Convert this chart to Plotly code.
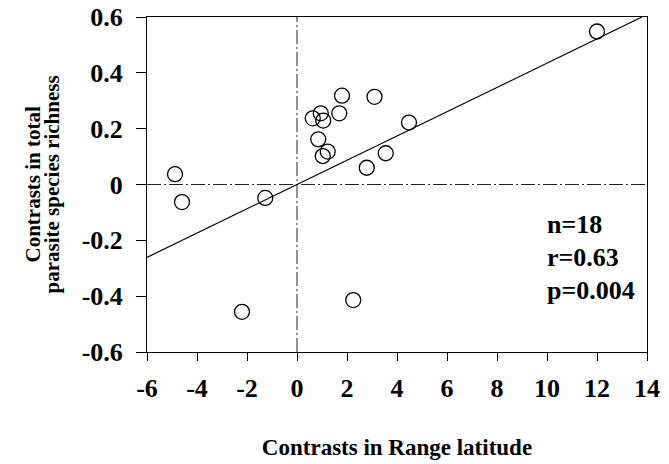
import plotly.graph_objects as go

# Data
range_latitude = [12.0, 1.8, 3.1, 0.95, 0.63, 1.05, 1.69, 4.48, 0.85,
                  1.23, 1.03, 3.55, 2.79, -4.88, -4.6, -1.27, -2.2, 2.25]
parasite_richness = [0.548, 0.318, 0.314, 0.255, 0.237, 0.229, 0.255, 0.222, 0.162,
                     0.118, 0.102, 0.112, 0.060, 0.037, -0.063, -0.048, -0.456, -0.414]

fit_x = [-6.0, 13.8]
fit_y = [-0.261, 0.600]

x_ticks = [-6, -4, -2, 0, 2, 4, 6, 8, 10, 12, 14]
x_tick_text = ["-6", "-4", "-2", "0", "2", "4", "6", "8", "10", "12", "14"]
y_ticks = [-0.6, -0.4, -0.2, 0, 0.2, 0.4, 0.6]
y_tick_text = ["-0.6", "-0.4", "-0.2", "0", "0.2", "0.4", "0.6"]

stats_lines = ["n=18", "r=0.63", "p=0.004"]
stats_y = [-0.145, -0.263, -0.378]

y_title_lines = ["Contrasts in total", "parasite species richness"]
y_title_x = [-0.23, -0.192]

FONT = "Liberation Serif, Times New Roman, serif"

fig = go.Figure()

# zero reference lines
fig.add_trace(go.Scatter(x=[-6, 14], y=[0, 0], mode="lines",
                         line=dict(color="#222", width=1, dash="14px,3px,2px,3px"),
                         hoverinfo="skip", showlegend=False))
fig.add_trace(go.Scatter(x=[0, 0], y=[-0.6, 0.6], mode="lines",
                         line=dict(color="#222", width=1, dash="14px,3px,2px,3px"),
                         hoverinfo="skip", showlegend=False))

# regression line
fig.add_trace(go.Scatter(x=fit_x, y=fit_y, mode="lines",
                         line=dict(color="black", width=1.2),
                         showlegend=False))

# points
fig.add_trace(go.Scatter(x=range_latitude, y=parasite_richness, mode="markers",
                         marker=dict(symbol="circle-open", size=15,
                                     color="black", line=dict(width=1.3)),
                         showlegend=False))

for txt, yy in zip(stats_lines, stats_y):
    fig.add_annotation(x=9.92, y=yy, xref="x", yref="y", text=txt,
                       showarrow=False, xanchor="left", yanchor="middle", align="left",
                       font=dict(family=FONT, size=26, color="black", weight="bold"))

for txt, xx in zip(y_title_lines, y_title_x):
    fig.add_annotation(x=xx, y=0.5, xref="paper", yref="paper", text=txt,
                       showarrow=False, textangle=-90, xanchor="center", yanchor="middle",
                       font=dict(family=FONT, size=21, color="black", weight="bold"))

fig.update_xaxes(range=[-6, 14], tickvals=x_ticks, ticktext=x_tick_text,
                 ticks="outside", ticklen=8, ticklabelstandoff=5,
                 ticklabeloverflow="allow",
                 tickwidth=1, tickcolor="black", showline=True, linecolor="black",
                 linewidth=1, mirror=True, showgrid=False, zeroline=False,
                 tickfont=dict(family=FONT, size=26, color="black", weight="bold"),
                 title=dict(text="Contrasts in Range latitude", standoff=36,
                            font=dict(family=FONT, size=23, color="black", weight="bold")))
fig.update_yaxes(range=[-0.6, 0.6], tickvals=y_ticks, ticktext=y_tick_text,
                 ticks="outside", ticklen=10, tickwidth=1, tickcolor="black",
                 showline=True, linecolor="black", linewidth=1, mirror=True,
                 showgrid=False, zeroline=False, ticklabelstandoff=8,
                 ticklabeloverflow="allow",
                 tickfont=dict(family=FONT, size=26, color="black", weight="bold"))

fig.update_layout(width=669, height=464,
                  margin=dict(l=147, r=22, t=17, b=112, autoexpand=False),
                  plot_bgcolor="white", paper_bgcolor="white")

fig.write_html("out.html", config={"displayModeBar": False},
               post_script="document.body.style.margin='0px';document.body.style.overflow='hidden';")
